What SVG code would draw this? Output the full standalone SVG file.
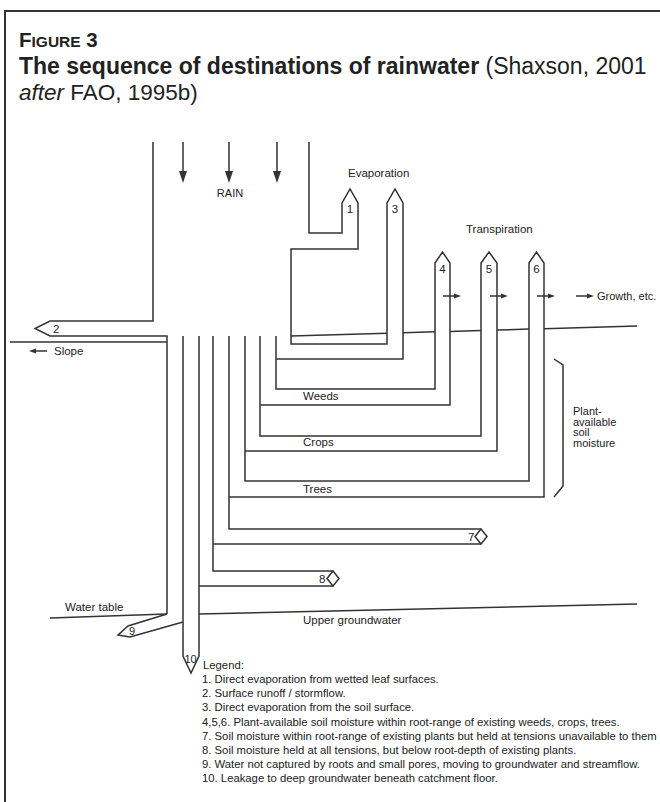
<svg xmlns="http://www.w3.org/2000/svg" width="660" height="802" viewBox="0 0 660 802">
<style>
.ln{fill:none;stroke:#333;stroke-width:1.5;stroke-linejoin:miter}
.ah{fill:#333;stroke:none}
.t{font-family:"Liberation Sans",Arial,sans-serif;fill:#222}
.s12{font-size:11.5px}
.s11{font-size:11px}
.lg{font-size:11.3px}
.hb{font-weight:bold}
</style>
<rect width="660" height="802" fill="#fff"/>
<g id="frame"><rect x="5" y="11" width="700" height="900" fill="none" stroke="#333" stroke-width="2"/></g>
<g id="header" class="t">
<text x="19" y="47" class="hb" font-size="20.5">F<tspan font-size="15.5">IGURE</tspan> 3</text>
<text x="19" y="74" font-size="23"><tspan class="hb">The sequence of destinations of rainwater</tspan> (Shaxson, 2001</text>
<text x="19" y="100" font-size="22.5"><tspan font-style="italic">after</tspan> FAO, 1995b)</text>
</g>
<g id="connectors">
<g id="rain-arrows">
<line class="ln" x1="183" y1="142" x2="183" y2="172"/><polygon class="ah" points="179,171 187,171 183,183"/>
<line class="ln" x1="229" y1="142" x2="229" y2="172"/><polygon class="ah" points="225,171 233,171 229,183"/>
<line class="ln" x1="277" y1="142" x2="277" y2="172"/><polygon class="ah" points="273,171 281,171 277,183"/>
</g>
<g id="flow-2"><polyline class="ln" points="153,142 153,321 50,321 35,328.5 50,336 167,336 167,614"/></g>
<g id="flow-9"><polyline class="ln" points="167,614 128,626 118,635 130,637 183,622"/></g>
<g id="flow-10"><polyline class="ln" points="183,336 183,656 191,673 199,656 199,336"/></g>
<g id="flow-8"><polyline class="ln" points="213,336 213,571 333,571"/><line class="ln" x1="199" y1="586" x2="333" y2="586"/><polygon class="ln" points="333,571 339,578.5 333,586 327,578.5"/></g>
<g id="flow-7"><polyline class="ln" points="229,336 229,529 481,529"/><line class="ln" x1="213" y1="544" x2="481" y2="544"/><polygon class="ln" points="481,529 487,536.5 481,544 475,536.5"/></g>
<g id="flow-6"><polyline class="ln" points="229,497 544,497 544,263 536.5,252 529,263 529,481 245,481 245,336"/></g>
<g id="flow-5"><polyline class="ln" points="245,451 497,451 497,263 489,252 481,263 481,436 260,436 260,336"/></g>
<g id="flow-4"><polyline class="ln" points="260,405 450,405 450,263 442.5,252 435,263 435,389 276,389 276,336"/></g>
<g id="flow-1-3"><polyline class="ln" points="276,359 403,359 403,203 395,189 387,203 387,344 291,344 291,249 358,249 358,203 350,189 342,203 342,233 309,233 309,142"/></g>
<g id="transpiration-arrows">
<line class="ln" x1="443" y1="296" x2="455" y2="296"/><polygon class="ah" points="454,293.5 461,296 454,298.5"/>
<line class="ln" x1="490" y1="296" x2="502" y2="296"/><polygon class="ah" points="501,293.5 508,296 501,298.5"/>
<line class="ln" x1="537" y1="296" x2="549" y2="296"/><polygon class="ah" points="548,293.5 555,296 548,298.5"/>
<line class="ln" x1="576" y1="296" x2="588" y2="296"/><polygon class="ah" points="587,293.5 594,296 587,298.5"/>
</g>
<g id="slope-arrow"><line class="ln" x1="35" y1="351" x2="47" y2="351"/><polygon class="ah" points="29,351 36,348.5 36,353.5"/></g>
</g>
<g id="ground-surface">
<line class="ln" x1="10" y1="342" x2="167" y2="342"/>
<line class="ln" x1="291" y1="336" x2="387" y2="333.2"/>
<line class="ln" x1="403" y1="332.8" x2="435" y2="331.8"/>
<line class="ln" x1="450" y1="331.4" x2="481" y2="330.5"/>
<line class="ln" x1="497" y1="330" x2="529" y2="329.1"/>
<line class="ln" x1="544" y1="328.7" x2="637" y2="326"/>
</g>
<g id="water-table"><line class="ln" x1="50" y1="618" x2="167" y2="614"/></g>
<g id="upper-groundwater"><line class="ln" x1="199" y1="614" x2="637" y2="604"/></g>
<g id="brace"><polyline class="ln" points="554,359 563,365 563,486 554,497"/></g>
<g id="labels" class="t s12">
<text x="230" y="197" text-anchor="middle" class="s11">RAIN</text>
<text x="348" y="177">Evaporation</text>
<text x="350" y="213" text-anchor="middle">1</text>
<text x="395" y="213" text-anchor="middle">3</text>
<text x="466" y="233">Transpiration</text>
<text x="442.5" y="273" text-anchor="middle">4</text>
<text x="489" y="273" text-anchor="middle">5</text>
<text x="536.5" y="273" text-anchor="middle">6</text>
<text x="597" y="300" class="s11">Growth, etc.</text>
<text x="53" y="333">2</text>
<text x="54" y="355">Slope</text>
<text x="303" y="400">Weeds</text>
<text x="303" y="446">Crops</text>
<text x="303" y="493">Trees</text>
<text x="573" y="415" class="s11">Plant-</text>
<text x="573" y="425.5" class="s11">available</text>
<text x="573" y="436" class="s11">soil</text>
<text x="573" y="446.5" class="s11">moisture</text>
<text x="468" y="541">7</text>
<text x="319" y="583">8</text>
<text x="65" y="611">Water table</text>
<text x="129" y="635" class="s11">9</text>
<text x="303" y="624">Upper groundwater</text>
<text x="184.5" y="663" class="s11">10</text>
</g>
<g id="legend" class="t lg">
<text x="203" y="669">Legend:</text>
<text x="202" y="683">1. Direct evaporation from wetted leaf surfaces.</text>
<text x="202" y="697">2. Surface runoff / stormflow.</text>
<text x="202" y="711">3. Direct evaporation from the soil surface.</text>
<text x="202" y="725.5">4,5,6. Plant-available soil moisture within root-range of existing weeds, crops, trees.</text>
<text x="202" y="740">7. Soil moisture within root-range of existing plants but held at tensions unavailable to them</text>
<text x="202" y="754">8. Soil moisture held at all tensions, but below root-depth of existing plants.</text>
<text x="202" y="768">9. Water not captured by roots and small pores, moving to groundwater and streamflow.</text>
<text x="202" y="782">10. Leakage to deep groundwater beneath catchment floor.</text>
</g>
</svg>
